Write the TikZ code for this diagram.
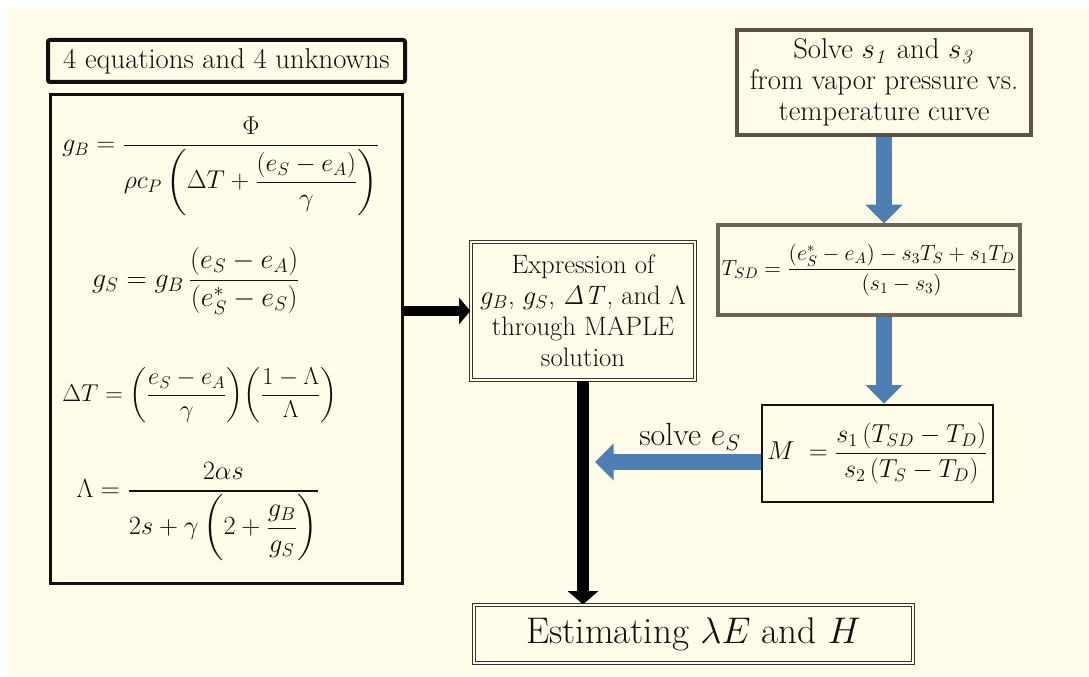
\RequirePackage{fix-cm}
\documentclass[tikz,border=0pt]{standalone}
\usepackage{amsmath}
\usetikzlibrary{arrows.meta}
\definecolor{cream}{HTML}{FFFDEA}
\definecolor{blk}{HTML}{101010}
\definecolor{blu}{HTML}{4F7EB5}
\definecolor{boxgray}{HTML}{5A5247}
\definecolor{tsdgray}{HTML}{6A6459}
\tikzset{
  txt/.style={font=\fontsize{21.5}{23.2}\selectfont, align=center, inner sep=0pt, text=blk},
  mth/.style={font=\fontsize{19.3}{22}\selectfont, inner sep=0pt, text=blk},
  box/.style={draw=blk, fill=cream, line width=2.25pt},
  dblbox/.style={draw=blk!85, fill=cream, double=cream, double distance=1.6pt, line width=0.9pt},
  bluearrow/.style={draw=blu, line width=12pt, -{Triangle[width=27pt,length=14pt]}},
  blackarrowh/.style={draw=black, line width=7.5pt, -{Triangle[width=19.5pt,length=8.5pt]}},
  blackarrowv/.style={draw=black, line width=9.5pt, -{Triangle[width=22.5pt,length=10pt]}},
}
\begin{document}
\begin{tikzpicture}[x=0.75pt,y=-0.75pt]
\useasboundingbox (0,0) rectangle (1089,677);
\fill[white] (0,0) rectangle (1089,677);
\fill[cream] (8,8) rectangle (1089,675);

% left column
\node[box, line width=3pt, rounded corners=1.5pt, minimum width=267.75pt, minimum height=31.5pt, txt] (title) at (226.5,61) {4 equations and 4 unknowns};
\node[box, minimum width=264pt, minimum height=366pt] (eqbox) at (226,339) {};
\node[mth] (eq1) at (221,166) {$\displaystyle g_B = \frac{\Phi}{\rho c_P\left(\Delta T + \dfrac{\left(e_S - e_A\right)}{\gamma}\right)}$};
\node[mth, font=\fontsize{21}{25}\selectfont] (eq2) at (196,281) {$\displaystyle g_S = g_B\,\frac{\left(e_S - e_A\vphantom{e^*_S}\right)}{\left(e_S^{*} - e_S\right)}$};
\node[mth, font=\fontsize{18.3}{21}\selectfont] (eq3) at (200,395) {$\displaystyle \Delta T = \left(\frac{e_S - e_A}{\gamma}\right)\!\left(\frac{1-\Lambda}{\Lambda}\right)$};
\node[mth, font=\fontsize{19.8}{23}\selectfont] (eq4) at (198,512) {$\displaystyle \Lambda = \frac{2\alpha s}{2s + \gamma\left(2 + \dfrac{g_B}{g_S}\right)}$};

% middle
\node[dblbox, minimum width=168pt, minimum height=103.5pt, txt, font=\fontsize{20}{23.2}\selectfont] (expr) at (583,311) {Expression of\\$g_B$, $g_S$, $\mathit{\Delta T}$, and $\Lambda$\\through MAPLE\\solution};
\node[dblbox, minimum width=329.25pt, minimum height=43.5pt, txt, font=\fontsize{27.8}{32}\selectfont] (est) at (693.5,634) {Estimating $\lambda E$ and $H$};

% right column
\node[box, draw=boxgray, line width=3pt, minimum width=220.5pt, minimum height=78.75pt, txt] (solve) at (884,82.5) {Solve $s_{\mathit{1}}$ and $s_{\mathit{3}}$\\from vapor pressure vs.\\temperature curve};
\node[box, draw=tsdgray, line width=2.4pt, minimum width=226.5pt, minimum height=67.5pt, mth, font=\fontsize{16.4}{19}\selectfont] (tsd) at (869,270) {$\displaystyle T_{SD} = \frac{\left(e_S^{*} - e_A\right) - s_3T_S + s_1T_D}{\left(s_1 - s_3\right)}$};
\node[box, line width=2pt, minimum width=173.25pt, minimum height=72.75pt, mth, font=\fontsize{19.5}{23}\selectfont] (m) at (877.5,453.5) {$\displaystyle M\; = \frac{s_1\left(T_{SD} - T_D\right)}{s_2\left(T_S - T_D\right)}$};

% connectors
\draw[blackarrowh] (eqbox.east |- expr.west) -- (expr.west);
\draw[blackarrowv] (expr.south) -- (expr.south |- est.north);
\draw[bluearrow] (solve.south -| 884,0) -- (tsd.north -| 884,0);
\draw[bluearrow] (tsd.south -| 884,0) -- (m.north -| 884,0);
\coordinate (etip) at (595,462);
\draw[bluearrow] (m.west |- etip) -- (etip);
\node[txt, font=\fontsize{24}{28}\selectfont] (lbl) at (690,437) {solve $e_S$};
\end{tikzpicture}
\end{document}
